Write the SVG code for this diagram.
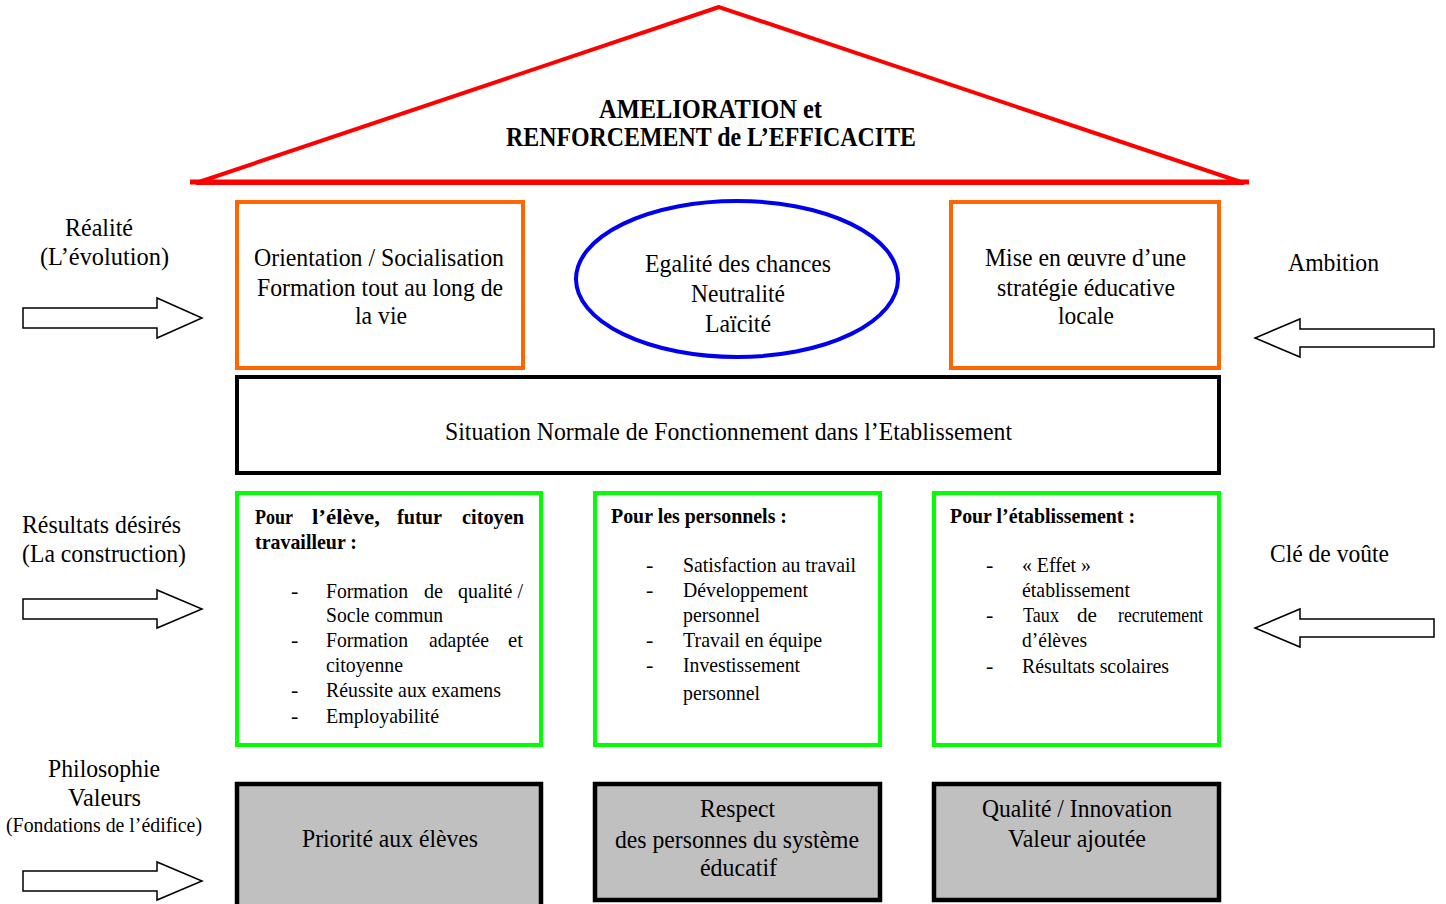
<svg xmlns="http://www.w3.org/2000/svg" width="1446" height="904" viewBox="0 0 1446 904">
<style>
text{font-family:"Liberation Serif","Times New Roman",serif;fill:#000}
.t{font-size:26px}
.s{font-size:22px}
.b{font-size:22px;font-weight:bold}
.h{font-size:28px;font-weight:bold}
.f{font-size:21px}
.arrow{fill:#fff;stroke:#000;stroke-width:1.5}
.orange{fill:#fff;stroke:#FF6600;stroke-width:4}
.green{fill:#fff;stroke:#00FF00;stroke-width:4}
.gray{fill:#C0C0C0;stroke:#000;stroke-width:4.5}
</style>
<rect width="1446" height="904" fill="#fff"/>
<g id="roof">
<polygon points="719,7 196,183 1244,183" fill="#fff" stroke="#FF0000" stroke-width="4" stroke-linejoin="miter"/>
<line x1="190" y1="182" x2="1249" y2="182" stroke="#FF0000" stroke-width="5"/>
<text class="h" x="599" y="118" textLength="223" lengthAdjust="spacingAndGlyphs">AMELIORATION  et</text>
<text class="h" x="506" y="146" textLength="410" lengthAdjust="spacingAndGlyphs">RENFORCEMENT de L’EFFICACITE</text>
</g>
<g id="orientation">
<rect class="orange" x="237" y="202" width="286" height="166"/>
<text class="t" x="254" y="266" textLength="250" lengthAdjust="spacingAndGlyphs">Orientation / Socialisation</text>
<text class="t" x="257" y="296" textLength="246" lengthAdjust="spacingAndGlyphs">Formation tout au long de</text>
<text class="t" x="355" y="324" textLength="52" lengthAdjust="spacingAndGlyphs">la vie</text>
</g>
<g id="egalite">
<ellipse cx="737" cy="279" rx="161" ry="78" fill="#fff" stroke="#0000EE" stroke-width="4"/>
<text class="t" x="645" y="272" textLength="186" lengthAdjust="spacingAndGlyphs">Egalité des chances</text>
<text class="t" x="691" y="302" textLength="94" lengthAdjust="spacingAndGlyphs">Neutralité</text>
<text class="t" x="705" y="332" textLength="66" lengthAdjust="spacingAndGlyphs">Laïcité</text>
</g>
<g id="strategie">
<rect class="orange" x="951" y="202" width="268" height="166"/>
<text class="t" x="985" y="266" textLength="201" lengthAdjust="spacingAndGlyphs">Mise en œuvre d’une</text>
<text class="t" x="997" y="296" textLength="178" lengthAdjust="spacingAndGlyphs">stratégie éducative</text>
<text class="t" x="1058" y="324" textLength="56" lengthAdjust="spacingAndGlyphs">locale</text>
</g>
<g id="situation">
<rect x="237" y="377" width="982" height="96" fill="#fff" stroke="#000" stroke-width="4"/>
<text class="t" x="445" y="440" textLength="567" lengthAdjust="spacingAndGlyphs">Situation Normale de Fonctionnement dans l’Etablissement</text>
</g>
<g id="eleve">
<rect class="green" x="237" y="493" width="304" height="252"/>
<text class="b" x="255" y="524" textLength="38" lengthAdjust="spacingAndGlyphs">Pour</text>
<text class="b" x="312" y="524" textLength="68" lengthAdjust="spacingAndGlyphs">l’élève,</text>
<text class="b" x="397" y="524" textLength="45" lengthAdjust="spacingAndGlyphs">futur</text>
<text class="b" x="462" y="524" textLength="62" lengthAdjust="spacingAndGlyphs">citoyen</text>
<text class="b" x="255" y="549" textLength="102" lengthAdjust="spacingAndGlyphs">travailleur :</text>
<text class="s" x="291" y="598">-</text>
<text class="s" x="326" y="598" textLength="82" lengthAdjust="spacingAndGlyphs">Formation</text>
<text class="s" x="424" y="598" textLength="19" lengthAdjust="spacingAndGlyphs">de</text>
<text class="s" x="458" y="598" textLength="65" lengthAdjust="spacingAndGlyphs">qualité /</text>
<text class="s" x="326" y="622" textLength="117" lengthAdjust="spacingAndGlyphs">Socle commun</text>
<text class="s" x="291" y="647">-</text>
<text class="s" x="326" y="647" textLength="82" lengthAdjust="spacingAndGlyphs">Formation</text>
<text class="s" x="429" y="647" textLength="60" lengthAdjust="spacingAndGlyphs">adaptée</text>
<text class="s" x="508" y="647" textLength="15" lengthAdjust="spacingAndGlyphs">et</text>
<text class="s" x="326" y="672" textLength="77" lengthAdjust="spacingAndGlyphs">citoyenne</text>
<text class="s" x="291" y="697">-</text>
<text class="s" x="326" y="697" textLength="175" lengthAdjust="spacingAndGlyphs">Réussite aux examens</text>
<text class="s" x="291" y="723">-</text>
<text class="s" x="326" y="723" textLength="113" lengthAdjust="spacingAndGlyphs">Employabilité</text>
</g>
<g id="personnels">
<rect class="green" x="595" y="493" width="285" height="252"/>
<text class="b" x="611" y="523" textLength="176" lengthAdjust="spacingAndGlyphs">Pour les personnels :</text>
<text class="s" x="646" y="572">-</text>
<text class="s" x="683" y="572" textLength="173" lengthAdjust="spacingAndGlyphs">Satisfaction au travail</text>
<text class="s" x="646" y="597">-</text>
<text class="s" x="683" y="597" textLength="125" lengthAdjust="spacingAndGlyphs">Développement</text>
<text class="s" x="683" y="622" textLength="77" lengthAdjust="spacingAndGlyphs">personnel</text>
<text class="s" x="646" y="647">-</text>
<text class="s" x="683" y="647" textLength="139" lengthAdjust="spacingAndGlyphs">Travail en équipe</text>
<text class="s" x="646" y="672">-</text>
<text class="s" x="683" y="672" textLength="117" lengthAdjust="spacingAndGlyphs">Investissement</text>
<text class="s" x="683" y="700" textLength="77" lengthAdjust="spacingAndGlyphs">personnel</text>
</g>
<g id="etablissement">
<rect class="green" x="934" y="493" width="285" height="252"/>
<text class="b" x="950" y="523" textLength="185" lengthAdjust="spacingAndGlyphs">Pour l’établissement :</text>
<text class="s" x="986" y="572">-</text>
<text class="s" x="1022" y="572" textLength="69" lengthAdjust="spacingAndGlyphs">« Effet »</text>
<text class="s" x="1022" y="597" textLength="108" lengthAdjust="spacingAndGlyphs">établissement</text>
<text class="s" x="986" y="622">-</text>
<text class="s" x="1023" y="622" textLength="36" lengthAdjust="spacingAndGlyphs">Taux</text>
<text class="s" x="1077" y="622" textLength="20" lengthAdjust="spacingAndGlyphs">de</text>
<text class="s" x="1118" y="622" textLength="85" lengthAdjust="spacingAndGlyphs">recrutement</text>
<text class="s" x="1022" y="647" textLength="65" lengthAdjust="spacingAndGlyphs">d’élèves</text>
<text class="s" x="986" y="673">-</text>
<text class="s" x="1022" y="673" textLength="147" lengthAdjust="spacingAndGlyphs">Résultats scolaires</text>
</g>
<g id="priorite">
<rect class="gray" x="237" y="784" width="304" height="124"/>
<text class="t" x="302" y="847" textLength="176" lengthAdjust="spacingAndGlyphs">Priorité aux élèves</text>
</g>
<g id="respect">
<rect class="gray" x="595" y="784" width="285" height="116"/>
<text class="t" x="700" y="817" textLength="75" lengthAdjust="spacingAndGlyphs">Respect</text>
<text class="t" x="615" y="848" textLength="244" lengthAdjust="spacingAndGlyphs">des personnes du système</text>
<text class="t" x="700" y="876" textLength="77" lengthAdjust="spacingAndGlyphs">éducatif</text>
</g>
<g id="qualite">
<rect class="gray" x="934" y="784" width="285" height="116"/>
<text class="t" x="982" y="817" textLength="190" lengthAdjust="spacingAndGlyphs">Qualité / Innovation</text>
<text class="t" x="1008" y="847" textLength="138" lengthAdjust="spacingAndGlyphs">Valeur ajoutée</text>
</g>
<g id="labels">
<text class="t" x="65" y="236" textLength="68" lengthAdjust="spacingAndGlyphs">Réalité</text>
<text class="t" x="40" y="265" textLength="129" lengthAdjust="spacingAndGlyphs">(L’évolution)</text>
<text class="t" x="1288" y="271" textLength="91" lengthAdjust="spacingAndGlyphs">Ambition</text>
<text class="t" x="22" y="533" textLength="159" lengthAdjust="spacingAndGlyphs">Résultats désirés</text>
<text class="t" x="22" y="562" textLength="164" lengthAdjust="spacingAndGlyphs">(La construction)</text>
<text class="t" x="1270" y="562" textLength="119" lengthAdjust="spacingAndGlyphs">Clé de voûte</text>
<text class="t" x="48" y="777" textLength="112" lengthAdjust="spacingAndGlyphs">Philosophie</text>
<text class="t" x="68" y="806" textLength="73" lengthAdjust="spacingAndGlyphs">Valeurs</text>
<text class="f" x="6" y="832" textLength="196" lengthAdjust="spacingAndGlyphs">(Fondations de l’édifice)</text>
</g>
<g id="connectors">
<polygon class="arrow" points="23,308 157,308 157,298 202,318 157,338 157,328 23,328"/>
<polygon class="arrow" points="23,599 157,599 157,590 202,609 157,628 157,619 23,619"/>
<polygon class="arrow" points="23,871 157,871 157,862 202,881 157,900 157,891 23,891"/>
<polygon class="arrow" points="1434,329 1300,329 1300,319 1255,338 1300,357 1300,347 1434,347"/>
<polygon class="arrow" points="1434,619 1300,619 1300,609 1255,628 1300,647 1300,637 1434,637"/>
</g>
</svg>
